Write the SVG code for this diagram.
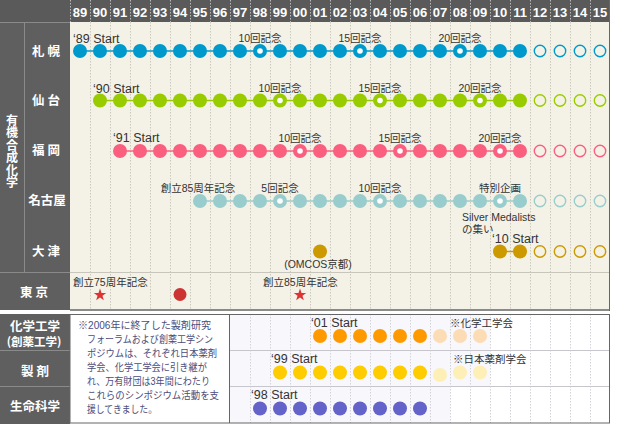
<svg xmlns="http://www.w3.org/2000/svg" xmlns:xlink="http://www.w3.org/1999/xlink" width="630" height="424" viewBox="0 0 630 424">
<style>
.yr{font-family:"Liberation Sans",sans-serif;font-size:13px;font-weight:bold;fill:#fff;text-anchor:middle}
.hd{font-family:"Noto Sans CJK JP","Liberation Sans",sans-serif;font-weight:bold;fill:#fff;text-anchor:middle;font-size:12.5px}
.vt{font-family:"Noto Sans CJK JP","Liberation Sans",sans-serif;font-weight:bold;fill:#fff;font-size:12px}
.st{font-family:"Liberation Sans","Noto Sans CJK JP",sans-serif;font-size:12.5px;fill:#333}
.ev{font-family:"Liberation Sans","Noto Sans CJK JP",sans-serif;font-size:10.5px;fill:#333;text-anchor:middle}
.ev2{font-family:"Liberation Sans","Noto Sans CJK JP",sans-serif;font-size:10.5px;fill:#333}
.nt{font-family:"Liberation Sans","Noto Sans CJK JP",sans-serif;font-size:10px;fill:#4d4d7a}
.dl{stroke:#cbc9be;stroke-width:1;stroke-dasharray:1.5,1.5}
.dh{stroke:#b8b8b8;stroke-width:1;stroke-dasharray:1.5,1.5}
.db{stroke:#d2d2d9;stroke-width:1;stroke-dasharray:1.5,1.5}
.c1{fill:#0099cc;stroke:#0099cc}
.c2{fill:#99cc00;stroke:#99cc00}
.c3{fill:#fb5f80;stroke:#fb5f80}
.c4{fill:#99cccc;stroke:#99cccc}
.c5{fill:#cc9900;stroke:#cc9900}
.c6{fill:#ff9900;stroke:#ff9900}
.c6p{fill:#fcdcb4;stroke:none}
.c7{fill:#ffcc00;stroke:#ffcc00}
.c7p{fill:#fdefb6;stroke:none}
.c8{fill:#6363c9;stroke:#6363c9}
.cn line{stroke-width:1.5}
</style>
<defs>
<circle id="d" r="7" stroke="none"/>
<g id="rg"><circle r="7" stroke="none"/><circle r="2.8" fill="#fff" stroke="none"/></g>
<circle id="h" r="5.7" fill="none" stroke-width="1.4"/>
<polygon id="star" points="0,-6.5 1.53,-2.1 6.18,-2.01 2.47,0.8 3.82,5.26 0,2.6 -3.82,5.26 -2.47,0.8 -6.18,-2.01 -1.53,-2.1" fill="#dd3333"/>
</defs>

<rect x="0" y="0" width="630" height="424" fill="#fff"/>
<rect x="70" y="22" width="540" height="288" fill="#f4f2e6"/>
<rect x="0" y="0" width="610" height="22" fill="#5a5a5a"/>
<rect x="0" y="22" width="70" height="288" fill="#5f5f5f"/>
<line x1="0" y1="22.5" x2="70" y2="22.5" stroke="#8a8a8a"/>
<line x1="24.5" y1="22" x2="24.5" y2="272" stroke="#8a8a8a"/>
<line x1="0" y1="272.5" x2="70" y2="272.5" stroke="#8a8a8a"/>
<line x1="70" y1="272.5" x2="610" y2="272.5" stroke="#c8c6bc"/>

<g id="grid-top">
<path class="dh" d="M70.5 0V22M90.5 0V22M110.5 0V22M130.5 0V22M150.5 0V22M170.5 0V22M190.5 0V22M210.5 0V22M230.5 0V22M250.5 0V22M270.5 0V22M290.5 0V22M310.5 0V22M330.5 0V22M350.5 0V22M370.5 0V22M390.5 0V22M410.5 0V22M430.5 0V22M450.5 0V22M470.5 0V22M490.5 0V22M510.5 0V22M530.5 0V22M550.5 0V22M570.5 0V22M590.5 0V22"/>
<path class="dl" d="M90.5 22V310M110.5 22V310M130.5 22V310M150.5 22V310M170.5 22V310M190.5 22V310M210.5 22V310M230.5 22V310M250.5 22V310M270.5 22V310M290.5 22V310M310.5 22V310M330.5 22V310M350.5 22V310M370.5 22V310M390.5 22V310M410.5 22V310M430.5 22V310M450.5 22V310M470.5 22V310M490.5 22V310M510.5 22V310M530.5 22V310M550.5 22V310M570.5 22V310M590.5 22V310"/>
</g>
<line x1="609.5" y1="0" x2="609.5" y2="311" stroke="#666"/>
<line x1="70" y1="310" x2="610" y2="310" stroke="#666" stroke-width="1.5"/>

<g id="years">
<text class="yr" x="80" y="17">89</text><text class="yr" x="100" y="17">90</text><text class="yr" x="120" y="17">91</text><text class="yr" x="140" y="17">92</text><text class="yr" x="160" y="17">93</text><text class="yr" x="180" y="17">94</text><text class="yr" x="200" y="17">95</text><text class="yr" x="220" y="17">96</text><text class="yr" x="240" y="17">97</text><text class="yr" x="260" y="17">98</text><text class="yr" x="280" y="17">99</text><text class="yr" x="300" y="17">00</text><text class="yr" x="320" y="17">01</text><text class="yr" x="340" y="17">02</text><text class="yr" x="360" y="17">03</text><text class="yr" x="380" y="17">04</text><text class="yr" x="400" y="17">05</text><text class="yr" x="420" y="17">06</text><text class="yr" x="440" y="17">07</text><text class="yr" x="460" y="17">08</text><text class="yr" x="480" y="17">09</text><text class="yr" x="500" y="17">10</text><text class="yr" x="520" y="17">11</text><text class="yr" x="540" y="17">12</text><text class="yr" x="560" y="17">13</text><text class="yr" x="580" y="17">14</text><text class="yr" x="600" y="17">15</text>
</g>

<g id="label-organic">
<text class="vt" x="12" y="114" writing-mode="vertical-rl" letter-spacing="0.5">有機合成化学</text>
</g>
<text class="hd" x="46" y="56" xml:space="preserve">札 幌</text>
<text class="hd" x="46" y="105" xml:space="preserve">仙 台</text>
<text class="hd" x="46" y="155" xml:space="preserve">福 岡</text>
<text class="hd" x="47" y="205">名古屋</text>
<text class="hd" x="46" y="256" xml:space="preserve">大 津</text>
<text class="hd" x="34" y="297" xml:space="preserve">東 京</text>

<g id="connectors" class="cn">
<line class="c1" x1="80" y1="51" x2="520" y2="51"/>
<line class="c2" x1="100" y1="100.5" x2="520" y2="100.5"/>
<line class="c3" x1="120" y1="151" x2="520" y2="151"/>
<line class="c4" x1="200" y1="201" x2="520" y2="201"/>
<line class="c5" x1="500" y1="251.5" x2="520" y2="251.5"/>
<line class="c6" x1="320" y1="336" x2="420" y2="336"/>
<line class="c7" x1="280" y1="372.5" x2="420" y2="372.5"/>
<line class="c8" x1="260" y1="408.5" x2="420" y2="408.5"/>
</g>

<g id="sapporo" class="c1">
<use href="#d" x="80" y="51"/><use href="#d" x="100" y="51"/><use href="#d" x="120" y="51"/><use href="#d" x="140" y="51"/><use href="#d" x="160" y="51"/><use href="#d" x="180" y="51"/><use href="#d" x="200" y="51"/><use href="#d" x="220" y="51"/><use href="#d" x="240" y="51"/><use href="#rg" x="260" y="51"/><use href="#d" x="280" y="51"/><use href="#d" x="300" y="51"/><use href="#d" x="320" y="51"/><use href="#d" x="340" y="51"/><use href="#rg" x="360" y="51"/><use href="#d" x="380" y="51"/><use href="#d" x="400" y="51"/><use href="#d" x="420" y="51"/><use href="#d" x="440" y="51"/><use href="#rg" x="460" y="51"/><use href="#d" x="480" y="51"/><use href="#d" x="500" y="51"/><use href="#d" x="520" y="51"/>
<use href="#h" x="540" y="51"/><use href="#h" x="560" y="51"/><use href="#h" x="580" y="51"/><use href="#h" x="600" y="51"/>
</g>
<text class="st" x="73" y="42.5">‘89 Start</text>
<text class="ev" x="260" y="42">10回記念</text>
<text class="ev" x="360" y="42">15回記念</text>
<text class="ev" x="460" y="42">20回記念</text>

<g id="sendai" class="c2">
<use href="#d" x="100" y="100.5"/><use href="#d" x="120" y="100.5"/><use href="#d" x="140" y="100.5"/><use href="#d" x="160" y="100.5"/><use href="#d" x="180" y="100.5"/><use href="#d" x="200" y="100.5"/><use href="#d" x="220" y="100.5"/><use href="#d" x="240" y="100.5"/><use href="#d" x="260" y="100.5"/><use href="#rg" x="280" y="100.5"/><use href="#d" x="300" y="100.5"/><use href="#d" x="320" y="100.5"/><use href="#d" x="340" y="100.5"/><use href="#d" x="360" y="100.5"/><use href="#rg" x="380" y="100.5"/><use href="#d" x="400" y="100.5"/><use href="#d" x="420" y="100.5"/><use href="#d" x="440" y="100.5"/><use href="#d" x="460" y="100.5"/><use href="#rg" x="480" y="100.5"/><use href="#d" x="500" y="100.5"/><use href="#d" x="520" y="100.5"/>
<use href="#h" x="540" y="100.5"/><use href="#h" x="560" y="100.5"/><use href="#h" x="580" y="100.5"/><use href="#h" x="600" y="100.5"/>
</g>
<text class="st" x="93" y="92.5">‘90 Start</text>
<text class="ev" x="280" y="92">10回記念</text>
<text class="ev" x="380" y="92">15回記念</text>
<text class="ev" x="480" y="92">20回記念</text>

<g id="fukuoka" class="c3">
<use href="#d" x="120" y="151"/><use href="#d" x="140" y="151"/><use href="#d" x="160" y="151"/><use href="#d" x="180" y="151"/><use href="#d" x="200" y="151"/><use href="#d" x="220" y="151"/><use href="#d" x="240" y="151"/><use href="#d" x="260" y="151"/><use href="#d" x="280" y="151"/><use href="#rg" x="300" y="151"/><use href="#d" x="320" y="151"/><use href="#d" x="340" y="151"/><use href="#d" x="360" y="151"/><use href="#d" x="380" y="151"/><use href="#rg" x="400" y="151"/><use href="#d" x="420" y="151"/><use href="#d" x="440" y="151"/><use href="#d" x="460" y="151"/><use href="#d" x="480" y="151"/><use href="#rg" x="500" y="151"/><use href="#d" x="520" y="151"/>
<use href="#h" x="540" y="151"/><use href="#h" x="560" y="151"/><use href="#h" x="580" y="151"/><use href="#h" x="600" y="151"/>
</g>
<text class="st" x="113" y="142">‘91 Start</text>
<text class="ev" x="300" y="142">10回記念</text>
<text class="ev" x="400" y="142">15回記念</text>
<text class="ev" x="500" y="142">20回記念</text>

<g id="nagoya" class="c4">
<use href="#d" x="200" y="201"/><use href="#d" x="220" y="201"/><use href="#d" x="240" y="201"/><use href="#d" x="260" y="201"/><use href="#rg" x="280" y="201"/><use href="#d" x="300" y="201"/><use href="#d" x="320" y="201"/><use href="#d" x="340" y="201"/><use href="#d" x="360" y="201"/><use href="#rg" x="380" y="201"/><use href="#d" x="400" y="201"/><use href="#d" x="420" y="201"/><use href="#d" x="440" y="201"/><use href="#d" x="460" y="201"/><use href="#d" x="480" y="201"/><use href="#rg" x="500" y="201"/><use href="#d" x="520" y="201"/>
<use href="#h" x="540" y="201"/><use href="#h" x="560" y="201"/><use href="#h" x="580" y="201"/><use href="#h" x="600" y="201"/>
</g>
<text class="ev" x="198" y="192">創立85周年記念</text>
<text class="ev" x="280" y="192">5回記念</text>
<text class="ev" x="380" y="192">10回記念</text>
<text class="ev" x="500" y="192">特別企画</text>
<text class="ev2" x="462" y="221" font-size="11">Silver Medalists</text>
<text class="ev2" x="462" y="233">の集い</text>

<g id="otsu" class="c5">
<use href="#d" x="320" y="251.5"/>
<use href="#d" x="500" y="251.5"/><use href="#d" x="520" y="251.5"/>
<use href="#h" x="540" y="251.5"/><use href="#h" x="560" y="251.5"/><use href="#h" x="580" y="251.5"/><use href="#h" x="600" y="251.5"/>
</g>
<text class="ev" x="318" y="267.5">(OMCOS京都)</text>
<text class="st" x="492" y="243">‘10 Start</text>

<g id="tokyo">
<use href="#star" x="100" y="295"/>
<circle cx="180" cy="294.5" r="6.5" fill="#cc3333"/>
<use href="#star" x="300" y="295"/>
<text class="ev2" x="73" y="286">創立75周年記念</text>
<text class="ev2" x="263" y="286">創立85周年記念</text>
</g>

<rect x="0" y="314" width="70" height="110" fill="#5f5f5f"/>
<rect x="229" y="314" width="261" height="72" fill="#f7f7fc"/>
<rect x="229" y="386" width="221" height="37" fill="#f7f7fc"/>
<g id="grid-bottom">
<path class="db" d="M250.5 314V423M270.5 314V423M290.5 314V423M310.5 314V423M330.5 314V423M350.5 314V423M370.5 314V423M390.5 314V423M410.5 314V423M430.5 314V423M450.5 314V423M470.5 314V423M490.5 314V423M510.5 314V423M530.5 314V423M550.5 314V423M570.5 314V423M590.5 314V423"/>
</g>
<line x1="0" y1="350.5" x2="70" y2="350.5" stroke="#8a8a8a"/>
<line x1="0" y1="386.5" x2="70" y2="386.5" stroke="#8a8a8a"/>
<line x1="229" y1="350.5" x2="610" y2="350.5" stroke="#c6c6cc"/>
<line x1="229" y1="386.5" x2="610" y2="386.5" stroke="#c6c6cc"/>
<rect x="70" y="314.5" width="539.5" height="108.5" fill="none" stroke="#666" stroke-width="1"/>
<line x1="229.5" y1="314" x2="229.5" y2="423" stroke="#666"/>

<text class="hd" x="35" y="331">化学工学<tspan x="34" y="346" font-size="11.5">(創薬工学)</tspan></text>
<text class="hd" x="35" y="376" xml:space="preserve">製 剤</text>
<text class="hd" x="35" y="411">生命科学</text>

<g id="note">
<text class="nt" x="78" y="329" textLength="133" lengthAdjust="spacingAndGlyphs">※2006年に終了した製剤研究</text>
<text class="nt" x="87" y="343" textLength="126" lengthAdjust="spacingAndGlyphs">フォーラムおよび創薬工学シン</text>
<text class="nt" x="87" y="357" textLength="130" lengthAdjust="spacingAndGlyphs">ポジウムは、それぞれ日本薬剤</text>
<text class="nt" x="87" y="371" textLength="120" lengthAdjust="spacingAndGlyphs">学会、化学工学会に引き継が</text>
<text class="nt" x="87" y="385" textLength="123" lengthAdjust="spacingAndGlyphs">れ、万有財団は3年間にわたり</text>
<text class="nt" x="87" y="399" textLength="132" lengthAdjust="spacingAndGlyphs">これらのシンポジウム活動を支</text>
<text class="nt" x="87" y="413" textLength="70" lengthAdjust="spacingAndGlyphs">援してきました。</text>
</g>

<g id="chem-eng" class="c6">
<use href="#d" x="320" y="336"/><use href="#d" x="340" y="336"/><use href="#d" x="360" y="336"/><use href="#d" x="380" y="336"/><use href="#d" x="400" y="336"/><use href="#d" x="420" y="336"/>
<circle class="c6p" cx="440" cy="336" r="7"/><circle class="c6p" cx="460" cy="336" r="7"/><circle class="c6p" cx="480" cy="336" r="7"/>
</g>
<text class="st" x="311" y="327">‘01 Start</text>
<text class="ev2" x="450" y="327" font-size="10">※化学工学会</text>

<g id="pharma" class="c7">
<use href="#d" x="280" y="372.5"/><use href="#d" x="300" y="372.5"/><use href="#d" x="320" y="372.5"/><use href="#d" x="340" y="372.5"/><use href="#d" x="360" y="372.5"/><use href="#d" x="380" y="372.5"/><use href="#d" x="400" y="372.5"/><use href="#d" x="420" y="372.5"/>
<circle class="c7p" cx="440" cy="375" r="7"/><circle class="c7p" cx="460" cy="372.5" r="7"/><circle class="c7p" cx="480" cy="372.5" r="7"/>
</g>
<text class="st" x="271" y="363">‘99 Start</text>
<text class="ev2" x="453" y="363" font-size="10">※日本薬剤学会</text>

<g id="life" class="c8">
<use href="#d" x="260" y="408.5"/><use href="#d" x="280" y="408.5"/><use href="#d" x="300" y="408.5"/><use href="#d" x="320" y="408.5"/><use href="#d" x="340" y="408.5"/><use href="#d" x="360" y="408.5"/><use href="#d" x="380" y="408.5"/><use href="#d" x="400" y="408.5"/><use href="#d" x="420" y="408.5"/>
</g>
<text class="st" x="251" y="399">‘98 Start</text>
</svg>
